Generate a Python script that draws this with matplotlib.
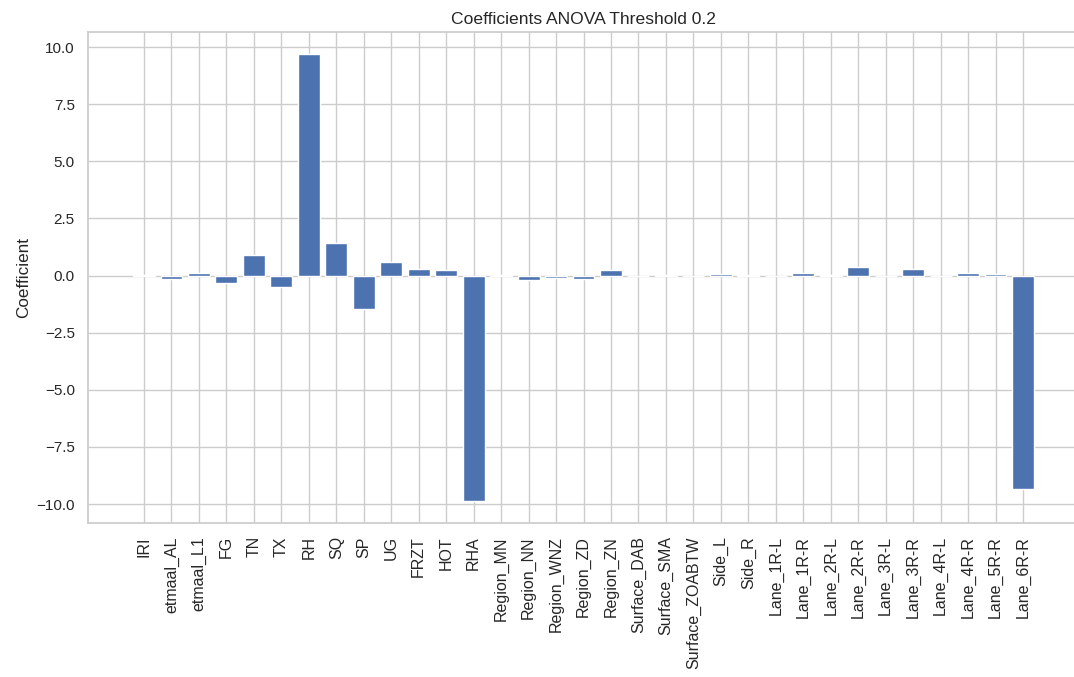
import matplotlib
matplotlib.use("Agg")
import matplotlib.pyplot as plt
import seaborn as sns

features = ["IRI", "etmaal_AL", "etmaal_L1", "FG", "TN", "TX", "RH", "SQ", "SP", "UG",
            "FRZT", "HOT", "RHA", "Region_MN", "Region_NN", "Region_WNZ", "Region_ZD",
            "Region_ZN", "Surface_DAB", "Surface_SMA", "Surface_ZOABTW", "Side_L", "Side_R",
            "Lane_1R-L", "Lane_1R-R", "Lane_2R-L", "Lane_2R-R", "Lane_3R-L", "Lane_3R-R",
            "Lane_4R-L", "Lane_4R-R", "Lane_5R-R", "Lane_6R-R"]
coefficients = [0.01, -0.13, 0.11, -0.32, 0.92, -0.5, 9.68, 1.42, -1.48, 0.58,
                0.3, 0.26, -9.85, 0.01, -0.18, -0.11, -0.16,
                0.26, -0.01, 0.01, -0.01, 0.06, 0.01,
                -0.01, 0.11, 0.01, 0.36, -0.01, 0.27,
                -0.01, 0.11, 0.06, -9.32]

sns.set_theme(style="whitegrid")
plt.rcParams["font.family"] = ["Liberation Sans", "DejaVu Sans"]

fig = plt.figure(figsize=(10.74, 6.77), dpi=100)
ax = fig.add_axes([88 / 1074, 1 - 523 / 677, (1079 - 88) / 1074, (523 - 32) / 677])
ax.bar(features, coefficients, color="#4C72B0")
ax.set_title("Coefficients ANOVA Threshold 0.2", fontsize=12.6)
ax.set_ylabel("Coefficient", fontsize=12.3)
ax.tick_params(axis="x", rotation=90, labelsize=11.5)
ax.tick_params(axis="y", labelsize=11)
fig.savefig("out.png", dpi=100)
